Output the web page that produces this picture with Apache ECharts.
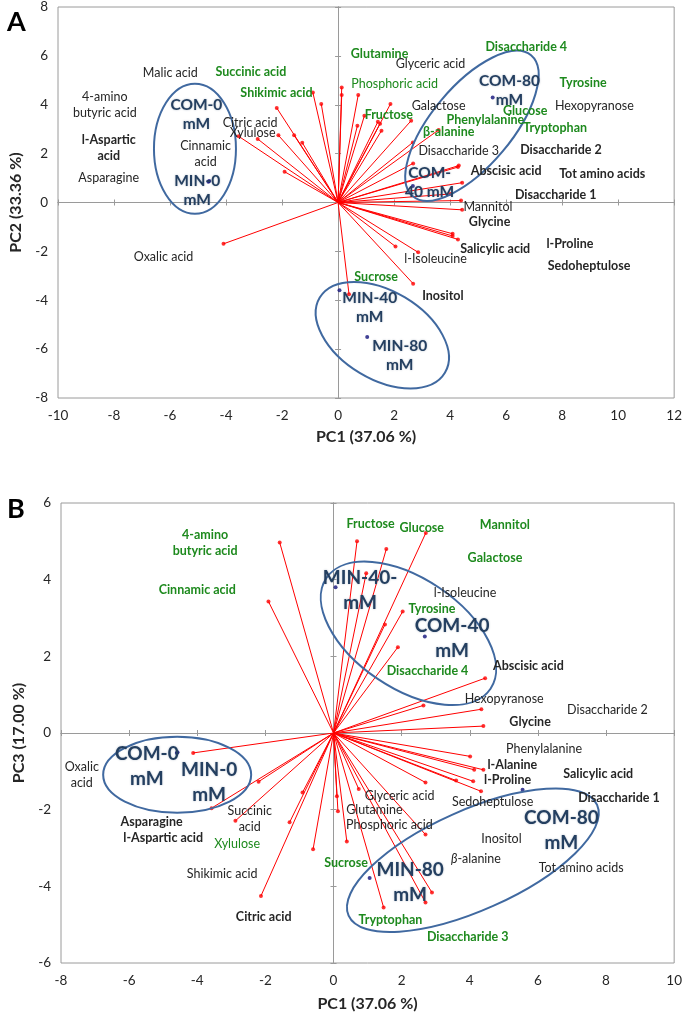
<!DOCTYPE html>
<html><head><meta charset="utf-8">
<script src="https://cdn.jsdelivr.net/npm/echarts@6/dist/echarts.min.js"></script>
<style>html,body{margin:0;padding:0;background:#fff}#c{width:685px;height:1015px}</style>
</head><body><div id="c"></div>
<script>
// ---------- tick labels ----------
const xTicksA = [-10, -8, -6, -4, -2, 0, 2, 4, 6, 8, 10, 12];
const yTicksA = [-8, -6, -4, -2, 0, 2, 4, 6, 8];
const xTicksB = [-8, -6, -4, -2, 0, 2, 4, 6, 8, 10];
const yTicksB = [-6, -4, -2, 0, 2, 4, 6];

// ---------- panel A (PC1 vs PC2) loadings ----------
const vecA = [
  [-3.55, 2.71], [-2.87, 2.60], [-2.19, 3.87], [-2.13, 2.75], [-1.57, 2.75], [-1.28, 2.45],
  [-1.91, 1.26], [-0.90, 4.50], [-0.60, 4.03], [-4.09, -1.69],
  [0.13, 4.71], [0.13, 4.40], [0.72, 4.40], [1.87, 4.03], [0.94, 3.55], [0.69, 3.14],
  [1.42, 3.30], [1.50, 3.22], [1.55, 2.94], [2.61, 3.35], [2.67, 2.46], [3.59, 2.97], [2.68, 1.60],
  [4.31, 1.51], [4.28, 1.45], [4.43, 0.81], [4.01, 0.35], [4.39, 0.08], [4.43, -0.30],
  [4.09, -1.28], [4.09, -1.37], [4.28, -1.51],
  [2.05, -1.80], [2.86, -2.04], [2.68, -3.32], [0.39, -3.75]
];
// scores A
const scoresA = [
  ['COM-0', -4.63, 0.85], ['MIN-0', -4.60, 0.88], ['COM-40', 2.67, 0.68],
  ['MIN-40', 0.05, -3.59], ['COM-80', 5.52, 4.30], ['MIN-80', 1.04, -5.50]
];
// variable labels A (text, x, y)
const labelsA = [
  ['Malic acid', -5.99, 5.32], ['Succinic acid', -3.11, 5.35], ['Shikimic acid', -2.20, 4.48],
  ['4-amino\nbutyric acid', -8.33, 3.98], ['l-Aspartic\nacid', -8.19, 2.22], ['Asparagine', -8.19, 0.99],
  ['Citric acid', -3.14, 3.25], ['Xylulose', -3.05, 2.86], ['Cinnamic\nacid', -4.73, 1.99],
  ['Oxalic acid', -6.23, -2.23], ['Glutamine', 1.48, 6.07], ['Glyceric acid', 3.30, 5.66],
  ['Disaccharide 4', 6.72, 6.37], ['Phosphoric acid', 2.02, 4.84], ['Tyrosine', 8.75, 4.91],
  ['Galactose', 3.59, 3.96], ['Hexopyranose', 9.15, 3.96], ['Fructose', 1.81, 3.58],
  ['Phenylalanine', 5.26, 3.39], ['Glucose', 6.68, 3.76], ['Tryptophan', 7.75, 3.07],
  ['β-alanine', 3.95, 2.90], ['Disaccharide 3', 4.31, 2.12], ['Disaccharide 2', 7.96, 2.15],
  ['Abscisic acid', 6.00, 1.27], ['Tot amino acids', 9.43, 1.17], ['Disaccharide 1', 7.77, 0.29],
  ['Mannitol', 5.35, -0.19], ['Glycine', 5.41, -0.80], ['Salicylic acid', 5.61, -1.89],
  ['l-Proline', 8.28, -1.71], ['Sedoheptulose', 8.96, -2.60], ['l-Isoleucine', 3.48, -2.33],
  ['Sucrose', 1.36, -3.05], ['Inositol', 3.74, -3.84]
];
const groupLabelsA = [
  ['COM-0\nmM', -5.06, 3.60], ['MIN-0\nmM', -5.03, 0.50], ['COM-80\nmM', 6.12, 4.59],
  ['COM-\n40 mM', 3.27, 0.80], ['MIN-40\nmM', 1.13, -4.31], ['MIN-80\nmM', 2.20, -6.27]
];
// ellipses A: centre x, centre y, semi-axis a (px), semi-axis b (px), tilt (deg)
const ellipsesA = [
  [-5.11, 2.20, 41, 65, 0], [4.78, 3.14, 92, 40, 50], [1.58, -5.43, 73, 44, -31]
];

// ---------- panel B (PC1 vs PC3) loadings ----------
const vecB = [
  [-1.58, 4.97], [-1.91, 3.43], [0.69, 5.00], [1.55, 4.80], [2.71, 5.22], [0.96, 4.17],
  [2.03, 3.17], [1.51, 2.83], [1.89, 2.24], [2.64, 0.72], [4.45, 1.43], [4.34, 0.62], [4.40, 0.18],
  [4.01, -0.61], [4.13, -0.96], [4.40, -0.96], [4.10, -1.26], [4.33, -1.52], [3.60, -1.24], [2.70, -1.29],
  [0.74, -1.46], [0.10, -1.65], [0.13, -2.04], [0.39, -2.83], [2.70, -2.65], [2.70, -4.42],
  [2.89, -4.16], [1.47, -4.55],
  [-4.12, -0.52], [-3.58, -1.96], [-2.20, -1.27], [-2.88, -2.29], [-0.91, -1.55], [-1.29, -2.33],
  [-0.60, -3.03], [-2.13, -4.25]
];
const scoresB = [
  ['COM-0', -4.60, -0.52], ['MIN-0', -4.58, -0.50], ['COM-40', 2.68, 2.52],
  ['MIN-40', 0.06, 3.80], ['COM-80', 5.55, -1.48], ['MIN-80', 1.06, -3.78]
];
const labelsB = [
  ['4-amino\nbutyric acid', -3.77, 4.96], ['Cinnamic acid', -4.00, 3.74], ['Fructose', 1.09, 5.45],
  ['Glucose', 2.59, 5.35], ['Mannitol', 5.03, 5.42], ['Galactose', 4.74, 4.57],
  ['l-Isoleucine', 3.86, 3.65], ['Tyrosine', 2.89, 3.24], ['Disaccharide 4', 2.76, 1.61],
  ['Abscisic acid', 5.72, 1.76], ['Hexopyranose', 5.01, 0.89], ['Disaccharide 2', 8.04, 0.59],
  ['Glycine', 5.77, 0.28], ['Phenylalanine', 6.18, -0.42], ['l-Alanine', 5.25, -0.83],
  ['l-Proline', 5.11, -1.22], ['Salicylic acid', 7.77, -1.06], ['Disaccharide 1', 8.38, -1.70],
  ['Glyceric acid', 1.94, -1.64], ['Sedoheptulose', 4.67, -1.81], ['Glutamine', 1.20, -2.00],
  ['Phosphoric acid', 1.64, -2.41], ['Inositol', 4.93, -2.76], ['β-alanine', 4.18, -3.29],
  ['Tot amino acids', 7.27, -3.51], ['Sucrose', 0.37, -3.38], ['Tryptophan', 1.67, -4.89],
  ['Disaccharide 3', 3.94, -5.32], ['Oxalic\nacid', -7.39, -1.10], ['Asparagine', -5.34, -2.33],
  ['l-Aspartic acid', -5.00, -2.74], ['Succinic\nacid', -2.46, -2.23], ['Xylulose', -2.83, -2.89],
  ['Shikimic acid', -3.27, -3.68], ['Citric acid', -2.05, -4.80]
];
const groupLabelsB = [
  ['MIN-40-\nmM', 0.78, 3.71], ['COM-40\nmM', 3.48, 2.48], ['COM-0\nmM', -5.48, -0.86],
  ['MIN-0\nmM', -3.65, -1.28], ['COM-80\nmM', 6.69, -2.54], ['MIN-80\nmM', 2.25, -3.90]
];
const ellipsesB = [
  [-4.59, -1.09, 74, 38, 0], [2.20, 2.60, 99, 55, -34], [4.09, -3.32, 136, 50, 24]
];

// ---------- label styling ----------
const greenA = ['Succinic acid', 'Shikimic acid', 'Glutamine', 'Disaccharide 4', 'Tyrosine', 'Fructose',
  'Phenylalanine', 'Glucose', 'Tryptophan', 'β-alanine', 'Sucrose', 'Phosphoric acid'];
const boldA = ['Succinic acid', 'Shikimic acid', 'Glutamine', 'Disaccharide 4', 'Tyrosine', 'Fructose',
  'Phenylalanine', 'Glucose', 'Tryptophan', 'β-alanine', 'Sucrose', 'l-Aspartic\nacid', 'Abscisic acid',
  'Disaccharide 2', 'Tot amino acids', 'Disaccharide 1', 'Glycine', 'Salicylic acid', 'l-Proline',
  'Sedoheptulose', 'Inositol'];
const greenB = ['4-amino\nbutyric acid', 'Cinnamic acid', 'Fructose', 'Glucose', 'Mannitol', 'Galactose',
  'Tyrosine', 'Disaccharide 4', 'Sucrose', 'Tryptophan', 'Disaccharide 3', 'Xylulose'];
const boldB = ['4-amino\nbutyric acid', 'Cinnamic acid', 'Fructose', 'Glucose', 'Mannitol', 'Galactose',
  'Tyrosine', 'Disaccharide 4', 'Sucrose', 'Tryptophan', 'Disaccharide 3', 'Abscisic acid', 'Glycine',
  'l-Alanine', 'l-Proline', 'Salicylic acid', 'Disaccharide 1', 'Asparagine', 'l-Aspartic acid', 'Citric acid'];

const FONT = 'Lato, "Open Sans", sans-serif';
const GREEN = '#1e8a1e', BLACK = '#262626', NAVY = '#243f60', RED = '#ff0000', ELL = '#4069a0', AX = '#9a9a9a';

const chart = echarts.init(document.getElementById('c'), null, {renderer: 'canvas'});

function axesFor(g, xt, yt, xName, yName, xGap, yGap, base) {
  const xs = [], ys = [];
  const xr = {min: xt[0], max: xt[xt.length - 1], interval: xt[1] - xt[0]};
  const yr = {min: yt[0], max: yt[yt.length - 1], interval: yt[1] - yt[0]};
  xs.push(Object.assign({gridIndex: g, type: 'value', position: 'bottom',
    axisLine: {show: false, onZero: false}, axisTick: {show: false}, splitLine: {show: false},
    axisLabel: {color: BLACK, fontSize: 13.5, margin: 11, fontFamily: FONT},
    name: xName, nameLocation: 'middle', nameGap: xGap,
    nameTextStyle: {fontWeight: 'bold', fontSize: 16, color: BLACK, fontFamily: FONT}}, xr));
  ys.push(Object.assign({gridIndex: g, type: 'value', position: 'left',
    axisLine: {show: false, onZero: false}, axisTick: {show: false}, splitLine: {show: false},
    axisLabel: {color: BLACK, fontSize: 13.5, margin: 10, fontFamily: FONT},
    name: yName, nameLocation: 'middle', nameGap: yGap,
    nameTextStyle: {fontWeight: 'bold', fontSize: 16, color: BLACK, fontFamily: FONT}}, yr));
  [false, true].forEach(inside => {
    xs.push(Object.assign({gridIndex: g, type: 'value', position: 'bottom',
      axisLine: {show: true, onZero: true, onZeroAxisIndex: base, lineStyle: {color: AX, width: 1}},
      axisTick: {show: true, inside: inside, length: 3, lineStyle: {color: AX}},
      axisLabel: {show: false}, splitLine: {show: false}}, xr));
    ys.push(Object.assign({gridIndex: g, type: 'value', position: 'left',
      axisLine: {show: true, onZero: true, onZeroAxisIndex: base, lineStyle: {color: AX, width: 1}},
      axisTick: {show: true, inside: inside, length: 3, lineStyle: {color: AX}},
      axisLabel: {show: false}, splitLine: {show: false}}, yr));
  });
  return {xs, ys};
}

function textSeries(ai, list, styleFn) {
  return {
    type: 'custom', xAxisIndex: ai, yAxisIndex: ai, z: 10, silent: true,
    data: list.map(l => ({name: l[0], value: [l[1], l[2]]})),
    encode: {x: 0, y: 1},
    renderItem: (params, api) => {
      const p = api.coord([api.value(0), api.value(1)]);
      const it = list[params.dataIndex];
      const st = styleFn(it[0]);
      return {type: 'text', x: p[0], y: p[1],
        style: Object.assign({text: it[0], align: 'center', verticalAlign: 'middle', fontFamily: FONT}, st)};
    }
  };
}

function ellipseSeries(ai, list) {
  return {
    type: 'custom', xAxisIndex: ai, yAxisIndex: ai, z: 5, silent: true,
    data: list.map(e => e.slice()),
    encode: {x: 0, y: 1},
    renderItem: (params, api) => {
      const c = api.coord([api.value(0), api.value(1)]);
      return {type: 'ellipse', x: c[0], y: c[1], rotation: api.value(4) * Math.PI / 180,
        shape: {cx: 0, cy: 0, rx: api.value(2), ry: api.value(3)},
        style: {fill: 'none', stroke: ELL, lineWidth: 2}};
    }
  };
}

function panelSeries(ai, vec, scores, labels, groups, ells, green, bold, isB) {
  return [
    {type: 'lines', coordinateSystem: 'cartesian2d', xAxisIndex: ai, yAxisIndex: ai, silent: true, z: 3,
      data: vec.map(v => ({coords: [[0, 0], v]})),
      lineStyle: {color: RED, width: 1, opacity: 1, curveness: 0}},
    {type: 'scatter', xAxisIndex: ai, yAxisIndex: ai, silent: true, z: 4, symbolSize: 4,
      data: vec, itemStyle: {color: RED}},
    {type: 'scatter', xAxisIndex: ai, yAxisIndex: ai, silent: true, z: 4, symbolSize: 4,
      data: scores.map(s => [s[1], s[2]]), itemStyle: {color: '#12127a'}},
    ellipseSeries(ai, ells),
    textSeries(ai, labels, name => {
      const st = {fill: green.includes(name) ? GREEN : BLACK, fontSize: 12.5,
        fontWeight: bold.includes(name) ? 'bold' : 'normal', lineHeight: 16};
      if (isB && name === 'β-alanine') {
        st.text = '{i|β}-alanine';
        st.rich = {i: {fontStyle: 'italic', fontSize: 12.5, fill: BLACK, fontFamily: FONT}};
      }
      return st;
    }),
    textSeries(ai, groups, () => ({fill: NAVY, fontSize: isB ? 19 : 15.5, fontWeight: 'bold',
      lineHeight: isB ? 25 : 19, textShadowColor: 'rgba(36,63,96,0.35)', textShadowBlur: 2}))
  ];
}

const aA = axesFor(0, xTicksA, yTicksA, 'PC1 (37.06 %)', 'PC2 (33.36 %)', 31, 26, 0);
const aB = axesFor(1, xTicksB, yTicksB, 'PC1 (37.06 %)', 'PC3 (17.00 %)', 33, 29, 3);

const option = {
  animation: false,
  backgroundColor: '#fff',
  title: [
    {text: 'A', left: 2, top: 4, textStyle: {fontSize: 27, fontWeight: 'bold', color: '#000', fontFamily: FONT}},
    {text: 'B', left: 2, top: 491, textStyle: {fontSize: 27, fontWeight: 'bold', color: '#000', fontFamily: FONT}}
  ],
  grid: [
    {left: 58, top: 6, width: 618, height: 392, show: true, borderColor: AX, borderWidth: 1},
    {left: 61, top: 503, width: 615, height: 460, show: true, borderColor: AX, borderWidth: 1}
  ],
  xAxis: aA.xs.concat(aB.xs),
  yAxis: aA.ys.concat(aB.ys),
  series: panelSeries(0, vecA, scoresA, labelsA, groupLabelsA, ellipsesA, greenA, boldA, false)
    .concat(panelSeries(3, vecB, scoresB, labelsB, groupLabelsB, ellipsesB, greenB, boldB, true))
};
chart.setOption(option);
</script></body></html>
